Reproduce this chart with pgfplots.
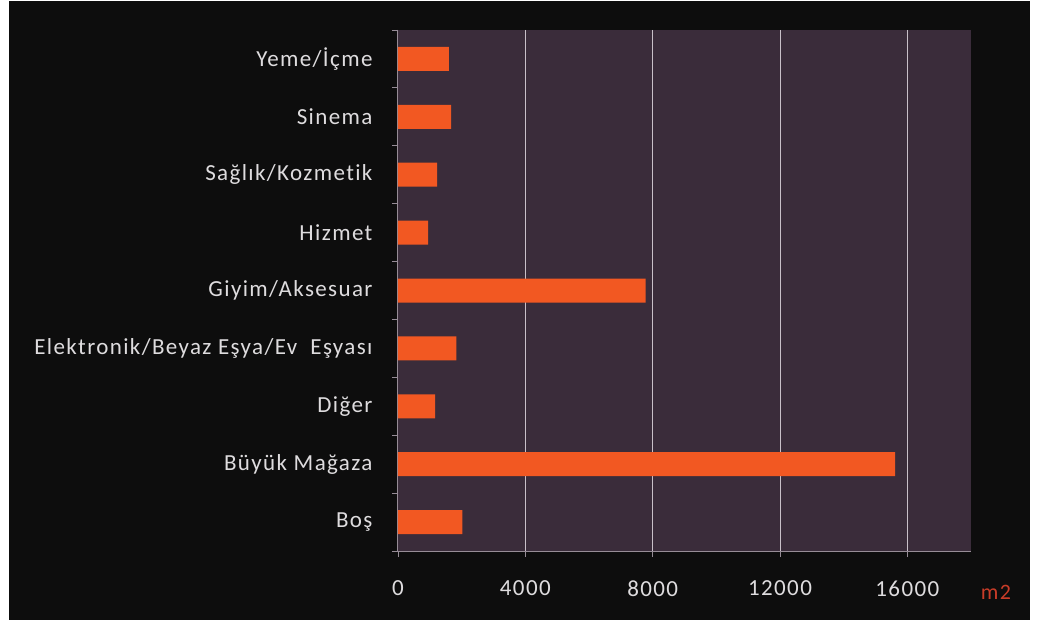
\documentclass[border=0pt]{standalone}
\usepackage{pgfplots}
\pgfplotsset{compat=1.18}
\usepackage{fontspec}
\setmainfont{Carlito}
\newfontfamily\lblfont[LetterSpace=6, Ligatures={NoCommon}]{Carlito}

\definecolor{plotbg}{RGB}{58,44,58}
\definecolor{barfill}{RGB}{242,88,34}
\definecolor{labeltxt}{RGB}{222,220,222}
\definecolor{gridc}{RGB}{200,192,200}
\definecolor{axisc}{RGB}{150,140,150}
\definecolor{unitred}{RGB}{200,60,40}

\begin{document}
\begin{tikzpicture}[x=1pt,y=1pt]
	% page and black panel
	\fill[white] (0,0) rectangle (1042,623);
	\fill[black!95] (9,3) rectangle (1030,622);
	\begin{axis}[
		at={(398pt,72pt)}, anchor=south west,
		scale only axis,
		width=573pt, height=521pt,
		xbar,
		bar width=24pt,
		xmin=0, xmax=18000,
		ymin=0.5, ymax=9.5,
		y dir=reverse,
		xtick={0,4000,8000,12000,16000},
		ytick={1,...,9},
		yticklabels={Yeme/İçme, Sinema, Sağlık/Kozmetik, Hizmet, Giyim/Aksesuar,
			Elektronik/Beyaz Eşya/Ev\ \ Eşyası, Diğer, Büyük Mağaza, Boş},
		minor ytick={0.5,1.5,...,9.5},
		scaled x ticks=false,
		/pgf/number format/assume math mode=true,
		/pgf/number format/1000 sep={},
		axis x line*=bottom,
		axis y line*=left,
		axis line style={axisc, line width=1pt, -},
		axis background/.style={fill=plotbg},
		xmajorgrids=true,
		grid style={gridc, line width=1pt},
		tick align=outside,
		major tick length=6pt,
		minor tick length=6pt,
		y tick style={draw=none},
		minor y tick style={draw=axisc, line width=0.8pt},
		x tick style={axisc, line width=0.8pt},
		ticklabel style={font=\lblfont\fontsize{23}{27}\selectfont, text=labeltxt},
		xticklabel style={yshift=-20pt},
		yticklabel style={xshift=-16pt},
	]
	\addplot[fill=barfill, draw=none] coordinates {
		(1600,1)
		(1670,2)
		(1230,3)
		(950,4)
		(7780,5)
		(1830,6)
		(1170,7)
		(15620,8)
		(2020,9)
	};
	\end{axis}
	\node[text=unitred, font=\lblfont\fontsize{22}{26}\selectfont] at (996,31) {m2};
\end{tikzpicture}
\end{document}
